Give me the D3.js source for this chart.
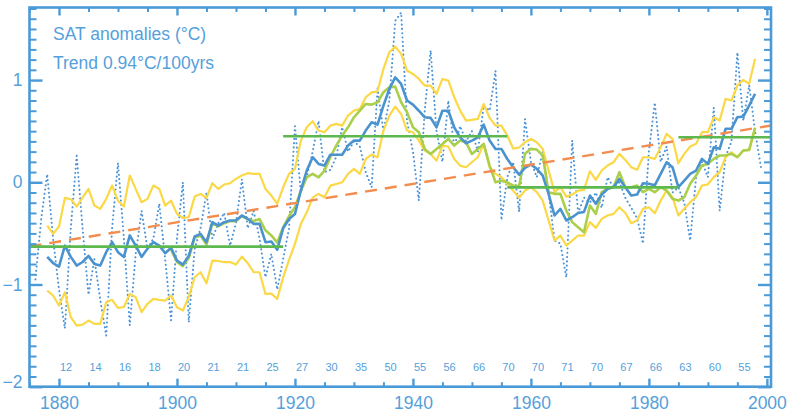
<!DOCTYPE html>
<html>
<head>
<meta charset="utf-8">
<script src="https://cdn.jsdelivr.net/npm/d3@7"></script>
<style>
  body { margin: 0; background: #fff; }
  svg { display: block; font-family: "Liberation Sans", Arial, Helvetica, sans-serif; }
</style>
</head>
<body>
<div id="chart"></div>
<script>
// annual SAT anomalies (dotted), one value per year from annualStart
const annualStart = 1876;
const annual = [
  -0.95, -0.35, 0.08, -0.55,
  -1.05, -1.43, -0.45, 0.26, -0.45, -1.10, -0.75, -1.15, -1.50, -0.45,
  0.19, -0.55, -1.40, -0.70, -0.28, -0.65, -0.55, -0.21, -0.75, -1.35,
  -0.55, 0.00, -1.37, -0.65, -0.45, -0.10, -0.55, -0.40, -0.30, -0.62,
  -0.40, 0.03, -0.45, -0.28, -0.55, -0.93, -0.70, -1.05, -0.75, -0.45,
  0.55, -0.10, 0.05, 0.30, 0.60, 0.10, 0.12, 0.25, 0.54, 0.30,
  0.40, 0.35, 0.10, -0.05, 0.92, 0.50, 0.80, 1.58, 1.66, 0.60,
  0.30, -0.18, 0.70, 1.29, 0.50, 0.20, 0.80, 0.35, 0.55, 0.40,
  0.50, 0.30, 0.75, 0.70, 1.09, -0.37, 0.05, 0.20, -0.29, 0.62,
  0.20, 0.05, 0.30, -0.10, -0.57, -0.60, -0.93, 0.41, -0.30, -0.15,
  -0.20, -0.10, -0.25, 0.05, -0.05, 0.00, -0.15, -0.25, -0.35, -0.60,
  0.30, 0.78, 0.20, 0.35, -0.10, -0.05, -0.20, -0.57, 0.05, 0.20,
  0.05, 0.73, -0.28, 0.25, 0.40, 1.27, 0.60, 0.95, 0.50, 0.15
];

// smoothed series and its bounds, from smoothStart
const smoothStart = 1878;
const runningMean = [
  -0.73, -0.79,
  -0.825, -0.62, -0.73, -0.815, -0.78, -0.72, -0.80, -0.815, -0.684, -0.586,
  -0.684, -0.73, -0.52, -0.62, -0.73, -0.65, -0.586, -0.62, -0.694, -0.64,
  -0.766, -0.805, -0.72, -0.53, -0.505, -0.586, -0.39, -0.423, -0.39, -0.374,
  -0.374, -0.325, -0.358, -0.407, -0.407, -0.586, -0.58, -0.66, -0.45, -0.36,
  -0.31, -0.08, 0.114, 0.245, 0.18, 0.163, 0.27, 0.27, 0.27, 0.359,
  0.408, 0.408, 0.506, 0.587, 0.564, 0.75, 0.913, 1.027, 0.962, 0.80,
  0.76, 0.70, 0.636, 0.63, 0.538, 0.70, 0.70, 0.538, 0.44, 0.382,
  0.408, 0.44, 0.564, 0.408, 0.326, 0.326, 0.228, 0.147, 0.075, 0.14,
  0.174, 0.131, 0.066, -0.113, -0.325, -0.26, -0.374, -0.342, -0.30, -0.29,
  -0.13, -0.21, -0.12, -0.064, -0.048, 0.033, -0.048, -0.13, -0.12, -0.009,
  -0.015, -0.03, 0.082, 0.196, 0.148, -0.048, 0.017, 0.082, 0.115, 0.229,
  0.18, 0.343, 0.327, 0.523, 0.523, 0.637, 0.643, 0.751, 0.865
];
const upperBound = [
  -0.423, -0.505,
  -0.433, -0.153, -0.166, -0.237, -0.15, -0.065, -0.228, -0.26, -0.162, -0.032,
  -0.18, -0.237, 0.066, -0.065, -0.195, -0.162, -0.032, -0.065, -0.228, -0.18,
  -0.309, -0.348, -0.342, -0.14, -0.114, -0.153, -0.009, -0.065, -0.022, -0.009,
  0.033, 0.066, 0.089, 0.082, 0.082, -0.065, -0.13, -0.21, -0.049, 0.082,
  0.131, 0.408, 0.538, 0.597, 0.506, 0.489, 0.554, 0.571, 0.554, 0.652,
  0.701, 0.717, 0.832, 0.88, 0.89, 1.109, 1.272, 1.327, 1.256, 1.093,
  1.06, 1.011, 0.946, 0.946, 0.864, 1.011, 0.995, 0.832, 0.701, 0.603,
  0.61, 0.62, 0.766, 0.63, 0.554, 0.554, 0.457, 0.33, 0.34, 0.392,
  0.425, 0.392, 0.327, 0.115, -0.097, -0.048, -0.14, -0.12, -0.081, -0.074,
  0.108, 0.024, 0.115, 0.164, 0.196, 0.278, 0.219, 0.148, 0.122, 0.245,
  0.245, 0.229, 0.343, 0.474, 0.425, 0.187, 0.278, 0.35, 0.376, 0.49,
  0.49, 0.637, 0.604, 0.816, 0.8, 0.947, 1.002, 0.963, 1.208
];
const lowerBound = [
  -1.06, -1.108,
  -1.206, -1.075, -1.32, -1.402, -1.392, -1.353, -1.385, -1.385, -1.173, -1.15,
  -1.229, -1.22, -1.092, -1.124, -1.271, -1.19, -1.141, -1.15, -1.157, -1.108,
  -1.222, -1.255, -1.124, -0.929, -0.88, -0.988, -0.766, -0.77, -0.782, -0.78,
  -0.805, -0.727, -0.792, -0.88, -0.88, -1.092, -1.09, -1.141, -0.93, -0.76,
  -0.603, -0.408, -0.294, -0.15, -0.114, -0.147, -0.033, -0.017, 0.0, 0.082,
  0.131, 0.082, 0.228, 0.271, 0.245, 0.506, 0.652, 0.74, 0.668, 0.506,
  0.49, 0.408, 0.31, 0.277, 0.212, 0.359, 0.35, 0.228, 0.163, 0.147,
  0.196, 0.245, 0.375, 0.147, 0.082, 0.049, -0.016, -0.082, -0.15, -0.081,
  -0.048, -0.097, -0.179, -0.374, -0.57, -0.521, -0.619, -0.57, -0.521, -0.521,
  -0.39, -0.446, -0.358, -0.325, -0.309, -0.244, -0.30, -0.40, -0.374, -0.26,
  -0.244, -0.303, -0.179, -0.081, -0.146, -0.325, -0.26, -0.195, -0.146, -0.032,
  -0.02, 0.05, 0.1, 0.245, 0.294, 0.245, 0.311, 0.317, 0.532
];

// second smoothed estimate (yellow-green), from altStart
const altStart = 1899;
const altMean = [
  -0.66,
  -0.78, -0.82, -0.74, -0.54, -0.52, -0.61, -0.40, -0.43, -0.40, -0.38,
  -0.38, -0.33, -0.36, -0.38, -0.36, -0.47, -0.52, -0.59, -0.44, -0.33,
  -0.245, -0.082, 0.049, 0.082, 0.049, 0.114, 0.245, 0.359, 0.457, 0.538,
  0.636, 0.701, 0.766, 0.76, 0.783, 0.881, 0.93, 0.936, 0.783, 0.685,
  0.538, 0.489, 0.326, 0.277, 0.326, 0.375, 0.424, 0.359, 0.408, 0.391,
  0.277, 0.326, 0.375, 0.163, 0.0, 0.016, 0.0, -0.033, -0.04, 0.28,
  0.327, 0.32, 0.262, -0.097, -0.113, -0.113, -0.276, -0.39, -0.44, -0.488,
  -0.227, -0.309, -0.097, -0.064, -0.048, 0.099, -0.048, -0.048, -0.032, -0.097,
  -0.064, -0.097, -0.048, -0.081, -0.162, -0.179, -0.146, -0.015, 0.066, 0.164,
  0.18, 0.229, 0.262, 0.262, 0.278, 0.245, 0.311, 0.317, 0.532
];

// period means (green steps)
const stepFrom = [1875, 1918, 1956, 1985];
const stepTo = [1918, 1956, 1985, 2000.7];
const stepValue = [-0.63, 0.45, -0.05, 0.44];

// linear trend (orange dashes), end points
const trendYears = [1875, 2000.7];
const trendValues = [-0.627, 0.555];

// numbers along the bottom, one per 5-year block
const countLabels = [12, 14, 16, 18, 20, 21, 21, 25, 27, 30, 35, 50, 55, 56, 66, 70, 70, 71, 70, 67, 66, 63, 60, 55];
const countYears = d3.range(1880, 2000, 5);

const xTicks = [1880, 1900, 1920, 1940, 1960, 1980, 2000];
const yTicks = [-2, -1, 0, 1];
const legendLines = ["SAT anomalies (\u00B0C)", "Trend 0.94\u00B0C/100yrs"];

const W = 787, H = 416;
const axisColor = "#4a9ad8";
const textColor = "#559fdb";

const svg = d3.select("#chart").append("svg")
  .attr("width", W)
  .attr("height", H);

const x = d3.scaleLinear().domain([1875, 2000.7]).range([29.5, 771]);
const y = d3.scaleLinear().domain([-2, 1.71]).range([386.7, 7.5]);

const toPoints = (start, vals) => vals.map((v, i) => [start + i, v]);
const line = d3.line().x(d => x(d[0])).y(d => y(d[1]));

const plotBottom = y.range()[0], plotTop = y.range()[1];
const plotLeft = x.range()[0], plotRight = x.range()[1];

svg.append("clipPath").attr("id", "plot")
  .append("rect")
  .attr("x", plotLeft).attr("y", plotTop)
  .attr("width", plotRight - plotLeft)
  .attr("height", plotBottom - plotTop);

const plot = svg.append("g").attr("clip-path", "url(#plot)");

// dotted annual series
plot.append("path")
  .attr("d", line(toPoints(annualStart, annual)))
  .attr("fill", "none")
  .attr("stroke", "#4b93d6")
  .attr("stroke-width", 2)
  .attr("stroke-linecap", "round")
  .attr("stroke-dasharray", "0.1 4.2");

// bounds
[upperBound, lowerBound].forEach(b => {
  plot.append("path")
    .attr("d", line(toPoints(smoothStart, b)))
    .attr("fill", "none")
    .attr("stroke", "#fbd846")
    .attr("stroke-width", 2.2)
    .attr("stroke-linejoin", "round");
});

plot.append("path")
  .attr("d", line(toPoints(altStart, altMean)))
  .attr("fill", "none")
  .attr("stroke", "#aacf4a")
  .attr("stroke-width", 2.6)
  .attr("stroke-linejoin", "round");

plot.append("path")
  .attr("d", line(toPoints(smoothStart, runningMean)))
  .attr("fill", "none")
  .attr("stroke", "#4b93cf")
  .attr("stroke-width", 2.6)
  .attr("stroke-linejoin", "round");

// trend
plot.append("path")
  .attr("d", line(trendYears.map((t, i) => [t, trendValues[i]])))
  .attr("fill", "none")
  .attr("stroke", "#f28c4f")
  .attr("stroke-width", 2.4)
  .attr("stroke-dasharray", "12 8");

// period means
plot.selectAll("line.step")
  .data(stepValue)
  .enter().append("line")
  .attr("class", "step")
  .attr("x1", (d, i) => x(stepFrom[i]))
  .attr("x2", (d, i) => x(stepTo[i]))
  .attr("y1", d => y(d))
  .attr("y2", d => y(d))
  .attr("stroke", "#5cb84f")
  .attr("stroke-width", 2.6);

// axes
const minorX = d3.range(1875, 2001, 5).filter(d => d % 20 !== 0);
const minorY = d3.range(-20, 18).map(d => d / 10).filter(d => !yTicks.includes(d));

function styleAxis(g, w) {
  g.select(".domain").remove();
  g.selectAll(".tick line").attr("stroke", axisColor).attr("stroke-width", w);
  g.selectAll(".tick text").attr("fill", textColor).attr("font-size", 17.5);
}

svg.append("g").attr("transform", `translate(0,${plotBottom})`)
  .call(d3.axisBottom(x).tickValues(minorX).tickSize(-4.5).tickFormat(""))
  .call(g => styleAxis(g, 2));
svg.append("g").attr("transform", `translate(0,${plotBottom})`)
  .call(d3.axisBottom(x).tickValues(xTicks).tickSize(-8).tickPadding(10).tickFormat(d3.format("d")))
  .call(g => styleAxis(g, 2.4));

svg.append("g").attr("transform", `translate(0,${plotTop})`)
  .call(d3.axisTop(x).tickValues(minorX).tickSize(-4.5).tickFormat(""))
  .call(g => styleAxis(g, 2));
svg.append("g").attr("transform", `translate(0,${plotTop})`)
  .call(d3.axisTop(x).tickValues(xTicks).tickSize(-8).tickFormat(""))
  .call(g => styleAxis(g, 2.4));

svg.append("g").attr("transform", `translate(${plotLeft},0)`)
  .call(d3.axisLeft(y).tickValues(minorY).tickSize(-7).tickFormat(""))
  .call(g => styleAxis(g, 2));
svg.append("g").attr("transform", `translate(${plotLeft},0)`)
  .call(d3.axisLeft(y).tickValues(yTicks).tickSize(-13).tickPadding(7).tickFormat(d3.format("d")))
  .call(g => styleAxis(g, 2.4))
  .call(g => g.selectAll(".tick text").filter(d => d === -2).attr("dy", "0.02em"));

svg.append("g").attr("transform", `translate(${plotRight},0)`)
  .call(d3.axisRight(y).tickValues(minorY).tickSize(-7).tickFormat(""))
  .call(g => styleAxis(g, 2));
svg.append("g").attr("transform", `translate(${plotRight},0)`)
  .call(d3.axisRight(y).tickValues(yTicks).tickSize(-13).tickFormat(""))
  .call(g => styleAxis(g, 2.4));

// frame
svg.append("rect")
  .attr("x", plotLeft).attr("y", plotTop)
  .attr("width", plotRight - plotLeft).attr("height", plotBottom - plotTop)
  .attr("fill", "none")
  .attr("stroke", axisColor)
  .attr("stroke-width", 2.6);

// counts along the bottom
svg.append("g").selectAll("text")
  .data(countLabels)
  .enter().append("text")
  .attr("x", (d, i) => x(countYears[i] + 1.2))
  .attr("y", 371)
  .attr("text-anchor", "middle")
  .attr("font-size", 11)
  .attr("fill", textColor)
  .text(d => d);

// legend text
svg.append("g").selectAll("text")
  .data(legendLines)
  .enter().append("text")
  .attr("x", 53)
  .attr("y", (d, i) => 39.5 + i * 29)
  .attr("font-size", 17.5)
  .attr("fill", textColor)
  .text(d => d);
</script>
</body>
</html>
